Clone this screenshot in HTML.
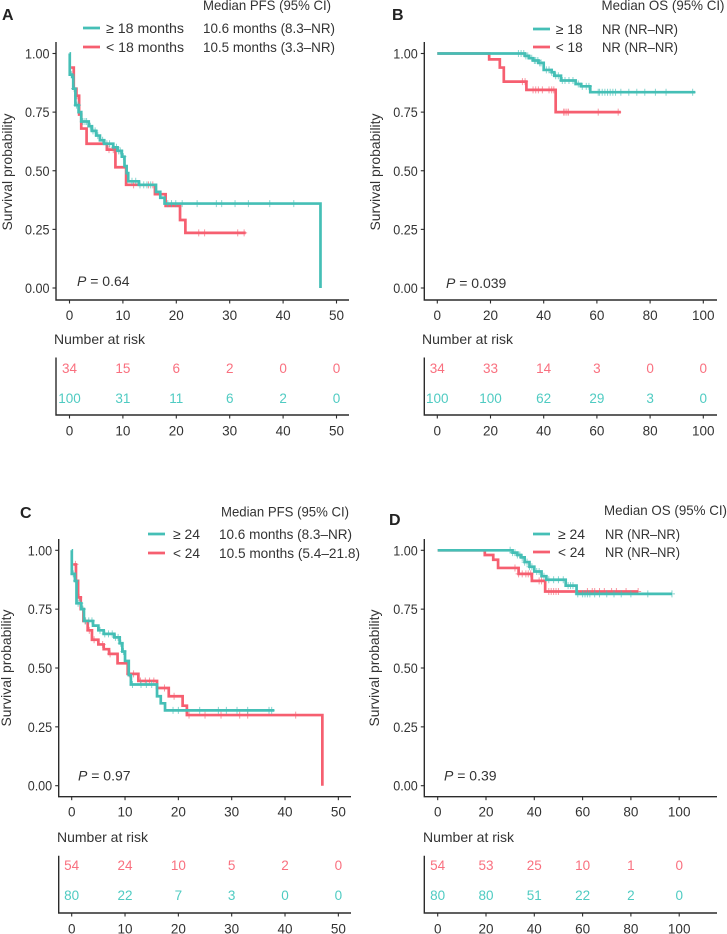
<!DOCTYPE html>
<html lang="en">
<head>
<meta charset="utf-8">
<title>Kaplan-Meier survival curves</title>
<style>
html,body{margin:0;padding:0;background:#fff;}
svg{display:block;font-family:"Liberation Sans",sans-serif;}
text{fill:#333;}
</style>
</head>
<body>
<svg id="figure" xmlns="http://www.w3.org/2000/svg" width="727" height="934" viewBox="0 0 727 934"></svg>
<script>
// ---------- Panel A data ----------
const aTealTimes = [0, 0.05, 0.5, 0.7, 1.1, 1.7, 2.2, 3.6, 4.2, 5, 5.7, 6.5, 8.2, 9, 9.8, 10.3, 10.7, 11, 13, 16.2, 17, 17.8, 47];
const aTealSurv = [1, 0.91, 0.90, 0.85, 0.78, 0.75, 0.71, 0.69, 0.67, 0.65, 0.63, 0.615, 0.60, 0.585, 0.56, 0.52, 0.49, 0.455, 0.44, 0.41, 0.385, 0.36, 0];
const aTealCensor = [0.4, 0.9, 1.3, 1.6, 2.5, 2.9, 3.2, 3.9, 4.4, 4.8, 5.3, 6.2, 7, 7.5, 8.3, 8.8, 9.2, 9.5, 10.1, 11.7, 12.4, 13.2, 13.9, 14.5, 15.2, 18.4, 19.1, 19.9, 21.1, 23.9, 27.5, 28.5, 31, 33.5, 37.5, 42];
const aRedTimes = [0.3, 0.8, 1.3, 1.8, 2.2, 3.2, 7, 8.6, 10.6, 16, 18, 20.7, 21.7, 33];
const aRedSurv = [0.94, 0.85, 0.82, 0.74, 0.68, 0.615, 0.59, 0.515, 0.44, 0.40, 0.35, 0.29, 0.235, 0.235];
const aRedCensor = [0.9, 1.4, 7.4, 8.2, 12, 14.8, 15.6, 24.2, 25.3, 31.5, 32.7];
const aAtRiskRed = [34, 15, 6, 2, 0, 0];
const aAtRiskTeal = [100, 31, 11, 6, 2, 0];
const aTicks = [0, 10, 20, 30, 40, 50];

// ---------- Panel B data ----------
const bTealTimes = [0, 33, 34.5, 36, 38, 40, 43, 44, 46.5, 52, 54, 57.5, 97];
const bTealSurv = [1, 0.99, 0.98, 0.97, 0.96, 0.93, 0.92, 0.905, 0.885, 0.87, 0.86, 0.835, 0.835];
const bTealCensor = [30.5, 31.5, 32.5, 33.3, 34, 35.5, 36.5, 37, 37.8, 38.5, 39, 41, 42, 43, 44.5, 45.5, 47, 48, 49.5, 51, 53, 54.5, 56, 57, 60.5, 61, 62, 63, 64, 65, 66, 67, 69, 72, 75, 78, 82, 86, 96];
const bRedTimes = [0, 19.5, 23.5, 25, 33.5, 44.5, 69];
const bRedSurv = [1, 0.975, 0.94, 0.88, 0.845, 0.75, 0.75];
const bRedCensor = [32, 33, 36, 37, 38, 39.5, 42, 43, 43.8, 47.5, 48, 48.7, 49.3, 60.5, 68];
const bAtRiskRed = [34, 33, 14, 3, 0, 0];
const bAtRiskTeal = [100, 100, 62, 29, 3, 0];
const bTicks = [0, 20, 40, 60, 80, 100];

// ---------- Panel C data ----------
const cTealTimes = [0, 0.02, 0.6, 0.9, 1.8, 2.3, 4, 5, 6, 8, 9, 9.5, 10, 10.7, 11.1, 16, 16.7, 17.5, 38];
const cTealSurv = [1, 0.90, 0.87, 0.775, 0.75, 0.70, 0.68, 0.66, 0.645, 0.63, 0.605, 0.57, 0.53, 0.47, 0.43, 0.38, 0.35, 0.32, 0.32];
const cTealCensor = [0.3, 0.8, 1.2, 1.6, 2.1, 2.6, 3.2, 3.8, 5.3, 6.2, 6.9, 7.6, 8.2, 8.7, 9.2, 9.7, 11.4, 13, 14, 15, 19, 20, 24, 27.5, 29, 31, 33, 37, 37.5];
const cRedTimes = [0.3, 0.8, 1.2, 1.7, 2.2, 3, 3.8, 5, 6, 7, 8.6, 10.5, 12.5, 16, 18.2, 20.8, 21.6, 47];
const cRedSurv = [0.94, 0.87, 0.80, 0.75, 0.70, 0.66, 0.62, 0.60, 0.58, 0.56, 0.52, 0.475, 0.445, 0.415, 0.38, 0.34, 0.30, 0];
const cRedCensor = [0.7, 1.4, 2.5, 3.3, 4.2, 5.8, 7.2, 10.8, 11.6, 12.9, 13.8, 14.6, 15.4, 17.4, 19.2, 22, 25, 28, 31.5, 33, 42];
const cAtRiskRed = [54, 24, 10, 5, 2, 0];
const cAtRiskTeal = [80, 22, 7, 3, 0, 0];
const cTicks = [0, 10, 20, 30, 40, 50];

// ---------- Panel D data ----------
const dTealTimes = [0, 31, 33, 34.5, 36, 38, 40, 43, 45, 47, 53, 57.5, 97];
const dTealSurv = [1, 0.99, 0.98, 0.97, 0.95, 0.93, 0.91, 0.89, 0.875, 0.875, 0.85, 0.815, 0.815];
const dTealCensor = [30, 31, 32, 33, 34, 35, 36, 37, 38, 39, 41, 42, 44, 46, 48, 50, 52, 54, 55, 56, 58, 60, 61, 62, 63, 65, 67, 70, 73, 76, 80, 87, 97];
const dRedTimes = [0, 19.5, 23, 25, 33.5, 39, 44.5, 83];
const dRedSurv = [1, 0.98, 0.96, 0.925, 0.90, 0.87, 0.825, 0.825];
const dRedCensor = [32, 33.5, 35, 36.5, 37.5, 38.5, 42, 43, 46, 47, 48, 49, 50, 62, 64, 65, 67, 69, 72, 74, 78, 83];
const dAtRiskRed = [54, 53, 25, 10, 1, 0];
const dAtRiskTeal = [80, 80, 51, 22, 2, 0];
const dTicks = [0, 20, 40, 60, 80, 100];

const survivalTicks = [0, 0.25, 0.5, 0.75, 1];

const TEAL = '#45bfb6';
const RED = '#f65f70';
const INK = '#2b2b2b';
const svg = document.getElementById('figure');
const NS = 'http://www.w3.org/2000/svg';

function make(parent, tag, attrs, content) {
  const el = document.createElementNS(NS, tag);
  for (const k in attrs) el.setAttribute(k, attrs[k]);
  if (content !== undefined) el.textContent = content;
  parent.appendChild(el);
  return el;
}

function label(parent, name, x, y, str, opts) {
  const el = make(parent, 'text', Object.assign({x: x, y: y, 'font-size': 13.5}, opts || {}), str);
  
  
  return el;
}

function stepPath(times, surv, xs, ys) {
  let d = 'M' + xs(times[0]) + ' ' + ys(surv[0]);
  for (let i = 1; i < times.length; i++) {
    d += 'H' + xs(times[i]) + 'V' + ys(surv[i]);
  }
  return d;
}

function survivalAt(t, times, surv) {
  let s = surv[0];
  for (let i = 0; i < times.length; i++) {
    if (times[i] <= t) s = surv[i];
  }
  return s;
}

function drawCurve(g, prefix, color, times, surv, censor, xs, ys) {
  const path = make(g, 'path', {d: stepPath(times, surv, xs, ys), fill: 'none', stroke: color, 'stroke-width': 2.7, 'stroke-linejoin': 'miter'});
  
  
  censor.forEach(function (t) {
    const cx = xs(t), cy = ys(survivalAt(t, times, surv));
    const mark = make(g, 'path', {d: 'M' + (cx - 3) + ' ' + cy + 'H' + (cx + 3) + 'M' + cx + ' ' + (cy - 3.5) + 'V' + (cy + 3.5), stroke: color, 'stroke-width': 1, opacity: 0.65, fill: 'none'});
    
    
  });
}

function drawPanel(p) {
  const g = make(svg, 'g', {});
  
  

  const xs = function (v) { return p.x0 + (v - p.ticks[0]) * p.xScale; };
  const ys = function (v) { return p.y0 - v * (p.y0 - p.y1); };

  label(g, 'panel-label', p.idX, p.idY, p.id, {'font-size': 16, 'font-weight': 'bold', style: 'fill:#222'});

  // Main axes
  const axes = make(g, 'path', {d: 'M' + p.axisX + ' ' + p.axisTop + 'V' + p.axisBottom + 'H' + p.axisEnd, fill: 'none', stroke: INK, 'stroke-width': 1.4});
  
  

  survivalTicks.forEach(function (v) {
    const tick = make(g, 'line', {x1: p.axisX - 3.5, x2: p.axisX, y1: ys(v), y2: ys(v), stroke: INK, 'stroke-width': 1.1});
    
    
    label(g, 'y-tick-label', p.axisX - 6.5, ys(v) + 5, v.toFixed(2), {'text-anchor': 'end', textLength: 24.5, lengthAdjust: 'spacingAndGlyphs'});
  });
  p.ticks.forEach(function (v) {
    const tick = make(g, 'line', {x1: xs(v), x2: xs(v), y1: p.axisBottom, y2: p.axisBottom + 3.5, stroke: INK, 'stroke-width': 1.1});
    
    
    label(g, 'x-tick-label', xs(v), p.axisBottom + 20, String(v), {'text-anchor': 'middle'});
  });

  const yTitle = label(g, 'y-axis-title', 0, 0, 'Survival probability', {'text-anchor': 'middle', 'font-size': 14, textLength: 117, lengthAdjust: 'spacingAndGlyphs', transform: 'translate(' + p.titleX + ' ' + p.titleY + ') rotate(-90)'});
  yTitle.setAttribute('x', 0);

  // Curves
  drawCurve(g, 'lower-group', RED, p.redT, p.redS, p.redC, xs, ys);
  drawCurve(g, 'higher-group', TEAL, p.tealT, p.tealS, p.tealC, xs, ys);

  // P value
  const pVal = label(g, 'p-value', p.pX, p.pY, '', {'font-size': 14});
  const pItalic = make(pVal, 'tspan', {'font-style': 'italic'}, 'P');
  
  
  make(pVal, 'tspan', {}, ' = ' + p.pText);

  // Legend
  const lg = make(g, 'g', {});
  
  
  label(lg, 'legend-header', p.headX, p.headY, p.headText, {'font-size': 14, textLength: p.headW, lengthAdjust: 'spacingAndGlyphs'});
  const swatchA = make(lg, 'line', {x1: p.lineX, x2: p.lineX + 17, y1: p.rowA, y2: p.rowA, stroke: TEAL, 'stroke-width': 2.7});
  
  
  const swatchB = make(lg, 'line', {x1: p.lineX, x2: p.lineX + 17, y1: p.rowB, y2: p.rowB, stroke: RED, 'stroke-width': 2.7});
  
  
  label(lg, 'legend-label-higher', p.textX, p.rowA + 5, p.labelA, {'font-size': 14, textLength: p.labelW, lengthAdjust: 'spacingAndGlyphs'});
  label(lg, 'legend-label-lower', p.textX, p.rowB + 5, p.labelB, {'font-size': 14, textLength: p.labelW, lengthAdjust: 'spacingAndGlyphs'});
  label(lg, 'legend-median-higher', p.valX, p.rowA + 5, p.valA, {'font-size': 14, textLength: p.valAW, lengthAdjust: 'spacingAndGlyphs'});
  label(lg, 'legend-median-lower', p.valX, p.rowB + 5, p.valB, {'font-size': 14, textLength: p.valBW, lengthAdjust: 'spacingAndGlyphs'});

  // Risk table
  const rg = make(g, 'g', {});
  
  
  label(rg, 'risk-table-title', p.narX, p.narY, 'Number at risk', {'font-size': 14, textLength: 91, lengthAdjust: 'spacingAndGlyphs'});
  const riskAxes = make(rg, 'path', {d: 'M' + p.axisX + ' ' + p.riskTop + 'V' + p.riskBottom + 'H' + p.axisEnd, fill: 'none', stroke: INK, 'stroke-width': 1.4});
  
  
  p.ticks.forEach(function (v, i) {
    const a = label(rg, 'risk-count-lower', xs(v), p.riskRowA + 5, String(p.riskRed[i]), {'text-anchor': 'middle'});
    a.style.fill = '#f9707f';
    const b = label(rg, 'risk-count-higher', xs(v), p.riskRowB + 5, String(p.riskTeal[i]), {'text-anchor': 'middle'});
    b.style.fill = '#4fcbc2';
    const tick = make(rg, 'line', {x1: xs(v), x2: xs(v), y1: p.riskBottom, y2: p.riskBottom + 3.5, stroke: INK, 'stroke-width': 1.1});
    
    
    label(rg, 'risk-x-tick-label', xs(v), p.riskBottom + 20.5, String(v), {'text-anchor': 'middle'});
  });
}

drawPanel({
  id: 'A', idX: 2, idY: 20, ticks: aTicks, x0: 69.5, xScale: 5.34, y0: 288, y1: 53.5,
  axisX: 56, axisTop: 42, axisBottom: 300, axisEnd: 349, titleX: 12, titleY: 172,
  tealT: aTealTimes, tealS: aTealSurv, tealC: aTealCensor, redT: aRedTimes, redS: aRedSurv, redC: aRedCensor,
  pX: 77, pY: 286, pText: '0.64',
  headX: 203, headY: 10, headText: 'Median PFS (95% CI)', headW: 128,
  lineX: 83, rowA: 28, rowB: 47, textX: 106, labelA: '\u2265 18 months', labelB: '< 18 months', labelW: 78,
  valX: 203, valA: '10.6 months (8.3\u2013NR)', valB: '10.5 months (3.3\u2013NR)', valAW: 132, valBW: 132,
  narX: 54, narY: 344, riskTop: 357.5, riskBottom: 415, riskRowA: 368, riskRowB: 398,
  riskRed: aAtRiskRed, riskTeal: aAtRiskTeal
});

drawPanel({
  id: 'B', idX: 392, idY: 20, ticks: bTicks, x0: 437.3, xScale: 2.66, y0: 288, y1: 53.5,
  axisX: 424.3, axisTop: 42, axisBottom: 300, axisEnd: 717, titleX: 380, titleY: 172,
  tealT: bTealTimes, tealS: bTealSurv, tealC: bTealCensor, redT: bRedTimes, redS: bRedSurv, redC: bRedCensor,
  pX: 446, pY: 288, pText: '0.039',
  headX: 601.5, headY: 10, headText: 'Median OS (95% CI)', headW: 123,
  lineX: 533, rowA: 29, rowB: 47, textX: 555.7, labelA: '\u2265 18', labelB: '< 18', labelW: 27,
  valX: 602, valA: 'NR (NR\u2013NR)', valB: 'NR (NR\u2013NR)', valAW: 76, valBW: 76,
  narX: 422, narY: 344, riskTop: 357.5, riskBottom: 415, riskRowA: 368, riskRowB: 398,
  riskRed: bAtRiskRed, riskTeal: bAtRiskTeal
});

drawPanel({
  id: 'C', idX: 20, idY: 518, ticks: cTicks, x0: 71.7, xScale: 5.333, y0: 785.7, y1: 550.3,
  axisX: 58.7, axisTop: 539, axisBottom: 796.7, axisEnd: 351, titleX: 11, titleY: 668,
  tealT: cTealTimes, tealS: cTealSurv, tealC: cTealCensor, redT: cRedTimes, redS: cRedSurv, redC: cRedCensor,
  pX: 78, pY: 780.5, pText: '0.97',
  headX: 221, headY: 516.5, headText: 'Median PFS (95% CI)', headW: 128,
  lineX: 148, rowA: 534, rowB: 553, textX: 173, labelA: '\u2265 24', labelB: '< 24', labelW: 27,
  valX: 219, valA: '10.6 months (8.3\u2013NR)', valB: '10.5 months (5.4\u201321.8)', valAW: 133, valBW: 141,
  narX: 57, narY: 842, riskTop: 855.7, riskBottom: 913, riskRowA: 865, riskRowB: 895,
  riskRed: cAtRiskRed, riskTeal: cAtRiskTeal
});

drawPanel({
  id: 'D', idX: 389, idY: 525, ticks: dTicks, x0: 437.7, xScale: 2.415, y0: 785.7, y1: 550.3,
  axisX: 424.3, axisTop: 539, axisBottom: 796.7, axisEnd: 717, titleX: 379, titleY: 668,
  tealT: dTealTimes, tealS: dTealSurv, tealC: dTealCensor, redT: dRedTimes, redS: dRedSurv, redC: dRedCensor,
  pX: 444, pY: 780.5, pText: '0.39',
  headX: 604, headY: 515, headText: 'Median OS (95% CI)', headW: 123,
  lineX: 533, rowA: 534, rowB: 552, textX: 558, labelA: '\u2265 24', labelB: '< 24', labelW: 27,
  valX: 605, valA: 'NR (NR\u2013NR)', valB: 'NR (NR\u2013NR)', valAW: 75, valBW: 75,
  narX: 423, narY: 842, riskTop: 855.7, riskBottom: 913, riskRowA: 865, riskRowB: 895,
  riskRed: dAtRiskRed, riskTeal: dAtRiskTeal
});
</script>
</body>
</html>
